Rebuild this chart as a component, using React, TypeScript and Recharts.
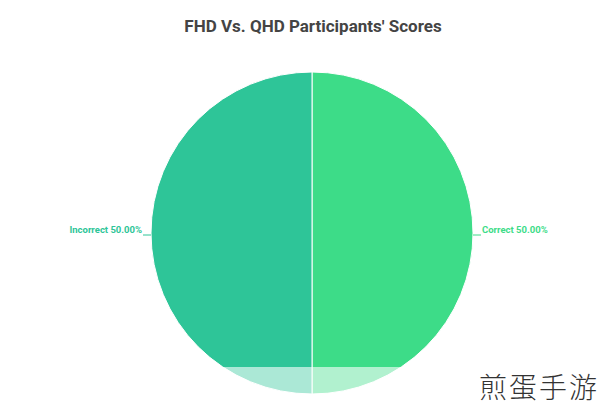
import { PieChart, Pie, Cell } from 'recharts';

const categories = ['Correct', 'Incorrect'];
const shares = [50, 50];
const sliceColors = ['#3ddc88', '#2ec598'];

const chartData = categories.map((name, i) => ({ name, value: shares[i] }));

const RADIAN = Math.PI / 180;

function renderLabel(props: any) {
  const { cx, cy, midAngle, outerRadius, name, percent, index } = props;
  const cos = Math.cos(-midAngle * RADIAN);
  const sin = Math.sin(-midAngle * RADIAN);
  const sx = cx + outerRadius * cos;
  const sy = cy + outerRadius * sin + 2;
  const ex = cx + (outerRadius + 8) * cos;
  const right = cos >= 0;
  const color = sliceColors[index % sliceColors.length];
  return (
    <g>
      <line x1={sx} y1={sy} x2={ex} y2={sy} stroke={color} strokeWidth={1} />
      <text
        x={ex + (right ? 1 : -1)}
        y={sy - 2}
        textAnchor={right ? 'start' : 'end'}
        fill={color}
        fontSize={9.5}
        fontWeight={700}
        fontFamily="Roboto, sans-serif"
      >
        {`${name} ${(percent * 100).toFixed(2)}%`}
      </text>
    </g>
  );
}

export default function App() {
  return (
    <div
      style={{
        position: 'absolute',
        left: 0,
        top: 0,
        width: 600,
        height: 407,
        background: '#fff',
        overflow: 'hidden',
      }}
    >
      <div
        style={{
          position: 'absolute',
          top: 16,
          left: 13,
          width: 600,
          textAlign: 'center',
          fontFamily: 'Roboto, sans-serif',
          fontWeight: 700,
          fontSize: 17,
          color: '#444',
        }}
      >
        FHD Vs. QHD Participants' Scores
      </div>
      <PieChart width={600} height={407} margin={{ top: 0, right: 0, bottom: 0, left: 0 }}>
        <Pie
          data={chartData}
          dataKey="value"
          nameKey="name"
          cx={312}
          cy={233}
          outerRadius={161}
          startAngle={90}
          endAngle={-270}
          stroke="#ffffff"
          strokeWidth={1}
          label={renderLabel}
          labelLine={false}
          isAnimationActive={false}
        >
          {chartData.map((d, i) => (
            <Cell key={d.name} fill={sliceColors[i]} />
          ))}
        </Pie>
      </PieChart>
      {/* washed-out strip along the bottom */}
      <div
        style={{
          position: 'absolute',
          left: 0,
          top: 367,
          width: 600,
          height: 40,
          background: 'rgba(255,255,255,0.6)',
        }}
      />
      <div
        style={{
          position: 'absolute',
          right: 1,
          top: 372,
          lineHeight: '28px',
          fontFamily: '"Noto Sans CJK SC", sans-serif',
          fontWeight: 300,
          fontSize: 28,
          color: '#333',
          letterSpacing: 2,
          whiteSpace: 'nowrap',
        }}
      >
        煎蛋手游
      </div>
    </div>
  );
}
